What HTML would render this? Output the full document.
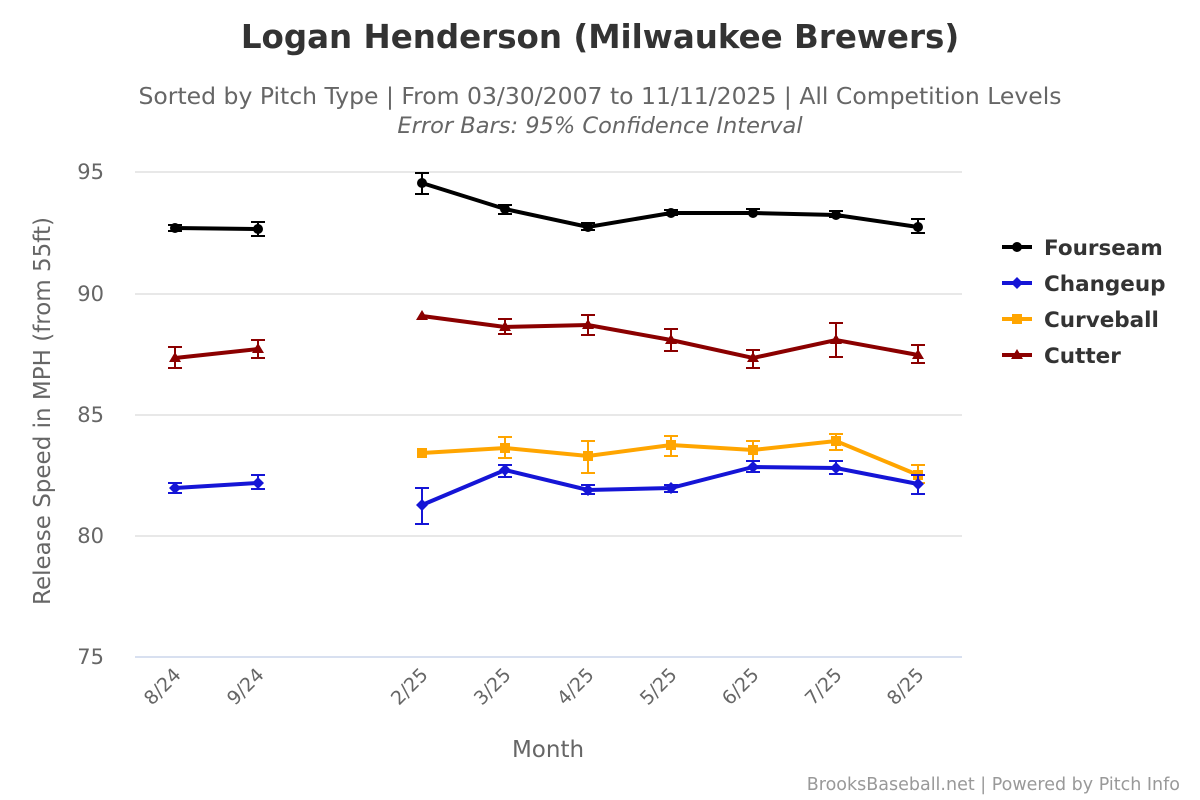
<!DOCTYPE html>
<html><head><meta charset="utf-8"><style>body{margin:0;background:#fff}svg{display:block}</style></head><body>
<svg width="1200" height="800" xmlns="http://www.w3.org/2000/svg" font-family="DejaVu Sans, Liberation Sans, sans-serif">
<rect width="1200" height="800" fill="#fff"/>
<text x="600" y="48" text-anchor="middle" font-size="32.5" font-weight="bold" fill="#333">Logan Henderson (Milwaukee Brewers)</text>
<text x="600" y="104" text-anchor="middle" font-size="23.5" fill="#666">Sorted by Pitch Type | From 03/30/2007 to 11/11/2025 | All Competition Levels</text>
<text x="600" y="133" text-anchor="middle" font-size="22.5" font-style="italic" fill="#666">Error Bars: 95% Confidence Interval</text>
<g stroke="#e0e0e0" stroke-width="1.5">
<line x1="135" x2="962" y1="172" y2="172"/><line x1="135" x2="962" y1="294" y2="294"/><line x1="135" x2="962" y1="415" y2="415"/><line x1="135" x2="962" y1="536" y2="536"/>
</g>
<line x1="135" x2="962" y1="657" y2="657" stroke="#ccd6eb" stroke-width="1.5"/>
<g font-size="21" fill="#666" text-anchor="end">
<text x="104" y="179">95</text><text x="104" y="301">90</text><text x="104" y="422">85</text><text x="104" y="543">80</text><text x="104" y="664">75</text>
</g>
<text transform="translate(50,411) rotate(-90)" text-anchor="middle" font-size="23" fill="#666">Release Speed in MPH (from 55ft)</text>
<text x="548" y="757" text-anchor="middle" font-size="23" fill="#666">Month</text>
<g font-size="19" fill="#666" text-anchor="end">
<text transform="translate(182,676) rotate(-45)">8/24</text>
<text transform="translate(265,676) rotate(-45)">9/24</text>
<text transform="translate(429,676) rotate(-45)">2/25</text>
<text transform="translate(512,676) rotate(-45)">3/25</text>
<text transform="translate(595,676) rotate(-45)">4/25</text>
<text transform="translate(678,676) rotate(-45)">5/25</text>
<text transform="translate(760,676) rotate(-45)">6/25</text>
<text transform="translate(843,676) rotate(-45)">7/25</text>
<text transform="translate(925,676) rotate(-45)">8/25</text>
</g>
<!-- Fourseam -->
<g stroke="#000" stroke-width="2" fill="none">
<path d="M168,225h14M175,225v6M168,231h14 M251,222h14M258,222v14M251,236h14 M415,173h14M422,173v21M415,194h14 M498,205h14M505,205v9M498,214h14 M581,223h14M588,223v7M581,230h14 M664,210h14M671,210v5M664,215h14 M746,209h14M753,209v5M746,214h14 M829,211h14M836,211v6M829,217h14 M911,219h14M918,219v14M911,233h14"/>
<polyline stroke-width="4" points="175,228 258,229"/>
<polyline stroke-width="4" points="422,183 505,209 588,227 671,213 753,213 836,215 918,227"/>
</g>
<g fill="#000"><circle cx="175" cy="228" r="5"/><circle cx="258" cy="229" r="5"/><circle cx="422" cy="183" r="5"/><circle cx="505" cy="209" r="5"/><circle cx="588" cy="227" r="5"/><circle cx="671" cy="213" r="5"/><circle cx="753" cy="213" r="5"/><circle cx="836" cy="215" r="5"/><circle cx="918" cy="227" r="5"/></g>
<!-- Cutter -->
<g stroke="#8b0000" stroke-width="2" fill="none">
<path d="M168,347h14M175,347v21M168,368h14 M251,340h14M258,340v18M251,358h14 M498,319h14M505,319v15M498,334h14 M581,315h14M588,315v20M581,335h14 M664,329h14M671,329v22M664,351h14 M746,350h14M753,350v18M746,368h14 M829,323h14M836,323v34M829,357h14 M911,345h14M918,345v18M911,363h14"/>
<polyline stroke-width="4" points="175,358 258,349"/>
<polyline stroke-width="4" points="422,316 505,327 588,325 671,340 753,358 836,340 918,355"/>
</g>
<g fill="#8b0000"><path d="M175,352l6,10h-12z M258,343l6,10h-12z M422,310l6,10h-12z M505,321l6,10h-12z M588,319l6,10h-12z M671,334l6,10h-12z M753,352l6,10h-12z M836,334l6,10h-12z M918,349l6,10h-12z"/></g>
<!-- Curveball -->
<g stroke="#ffa500" stroke-width="2" fill="none">
<path d="M498,437h14M505,437v21M498,458h14 M581,441h14M588,441v32M581,473h14 M664,436h14M671,436v20M664,456h14 M746,441h14M753,441v20M746,461h14 M829,434h14M836,434v16M829,450h14 M911,465h14M918,465v18M911,483h14"/>
<polyline stroke-width="4" points="422,453 505,448 588,456 671,445 753,450 836,441 918,475"/>
</g>
<g fill="#ffa500"><rect x="417" y="448" width="10" height="10"/><rect x="500" y="443" width="10" height="10"/><rect x="583" y="451" width="10" height="10"/><rect x="666" y="440" width="10" height="10"/><rect x="748" y="445" width="10" height="10"/><rect x="831" y="436" width="10" height="10"/><rect x="913" y="470" width="10" height="10"/></g>
<!-- Changeup -->
<g stroke="#1515d6" stroke-width="2" fill="none">
<path d="M168,483h14M175,483v10M168,493h14 M251,475h14M258,475v14M251,489h14 M415,488h14M422,488v36M415,524h14 M498,465h14M505,465v12M498,477h14 M581,485h14M588,485v9M581,494h14 M664,485h14M671,485v7M664,492h14 M746,461h14M753,461v11M746,472h14 M829,461h14M836,461v13M829,474h14 M911,475h14M918,475v19M911,494h14"/>
<polyline stroke-width="4" points="175,488 258,483"/>
<polyline stroke-width="4" points="422,505 505,470 588,490 671,488 753,467 836,468 918,484"/>
</g>
<g fill="#1515d6"><path d="M175,482l6,6l-6,6l-6,-6z M258,477l6,6l-6,6l-6,-6z M422,499l6,6l-6,6l-6,-6z M505,464l6,6l-6,6l-6,-6z M588,484l6,6l-6,6l-6,-6z M671,482l6,6l-6,6l-6,-6z M753,461l6,6l-6,6l-6,-6z M836,462l6,6l-6,6l-6,-6z M918,478l6,6l-6,6l-6,-6z"/></g>
<!-- Legend -->
<g font-size="21.5" font-weight="bold" fill="#333">
<line x1="1002" x2="1032" y1="247" y2="247" stroke="#000" stroke-width="4"/><circle cx="1017" cy="247" r="5" fill="#000"/><text x="1044" y="255">Fourseam</text>
<line x1="1002" x2="1032" y1="283" y2="283" stroke="#1515d6" stroke-width="4"/><path d="M1017,277l6,6l-6,6l-6,-6z" fill="#1515d6"/><text x="1044" y="291">Changeup</text>
<line x1="1002" x2="1032" y1="319" y2="319" stroke="#ffa500" stroke-width="4"/><rect x="1012" y="314" width="10" height="10" fill="#ffa500"/><text x="1044" y="327">Curveball</text>
<line x1="1002" x2="1032" y1="355" y2="355" stroke="#8b0000" stroke-width="4"/><path d="M1017,349l6,10h-12z" fill="#8b0000"/><text x="1044" y="363">Cutter</text>
</g>
<text x="1180" y="790" text-anchor="end" font-size="17.5" fill="#999">BrooksBaseball.net | Powered by Pitch Info</text>
</svg>
</body></html>
